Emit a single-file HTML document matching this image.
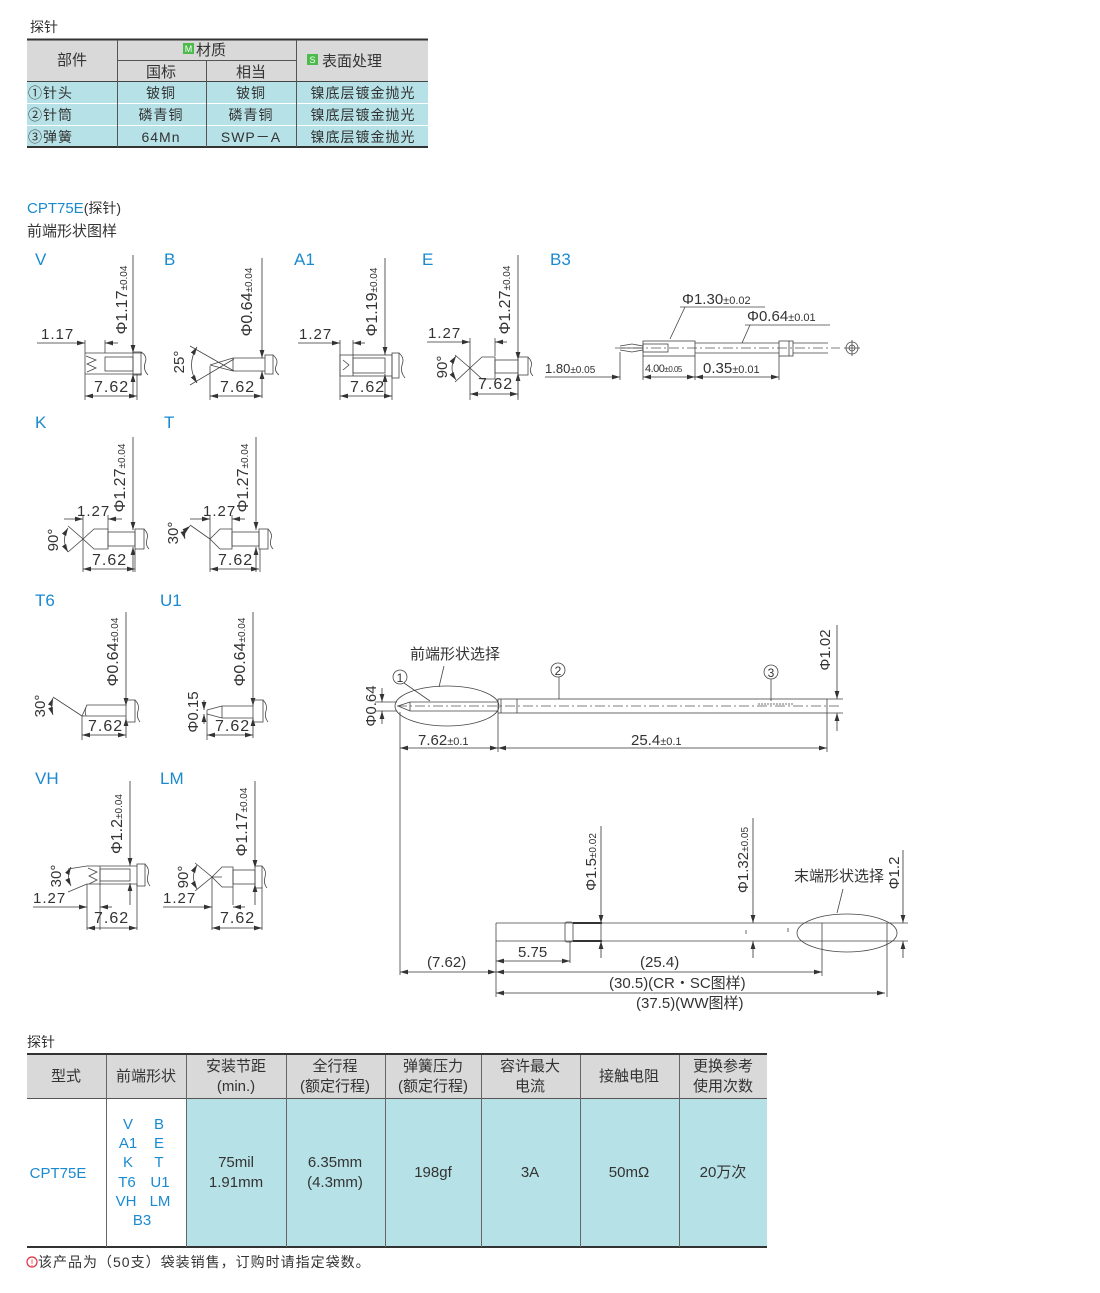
<!DOCTYPE html>
<html><head><meta charset="utf-8"><style>
html,body{margin:0;padding:0;background:#fff}
svg{display:block}
text{font-family:"Liberation Sans","Noto Sans CJK SC",sans-serif;fill:#333}
.l{stroke:#333;stroke-width:1;fill:none}
.t{stroke:#444;stroke-width:.8;fill:none}
.c{stroke:#555;stroke-width:.8;fill:none;stroke-dasharray:10 3 2 3}
.d{stroke:#333;stroke-width:.8;fill:none}
</style></head><body>
<svg width="1100" height="1293" viewBox="0 0 1100 1293" xmlns="http://www.w3.org/2000/svg">
<defs>
<marker id="a" viewBox="0 0 10 6" refX="10" refY="3" markerWidth="8" markerHeight="5" orient="auto-start-reverse" markerUnits="userSpaceOnUse"><path d="M0 0L10 3L0 6z" fill="#333"/></marker>
</defs>

<!-- TOP TABLE -->
<text x="30" y="32" font-size="14">探针</text>
<rect x="27" y="40" width="401" height="41" fill="#d9d9d9"/>
<rect x="27" y="81" width="401" height="66" fill="#b6e1e6"/>
<line x1="27" y1="39.5" x2="428" y2="39.5" stroke="#333" stroke-width="2"/>
<line x1="117" y1="60.5" x2="296" y2="60.5" stroke="#555"/>
<line x1="27" y1="81.5" x2="428" y2="81.5" stroke="#444"/>
<line x1="27" y1="103.5" x2="428" y2="103.5" stroke="#fff"/>
<line x1="27" y1="125.5" x2="428" y2="125.5" stroke="#fff"/>
<line x1="27" y1="147" x2="428" y2="147" stroke="#333" stroke-width="2"/>
<line x1="117.5" y1="40" x2="117.5" y2="147" stroke="#555"/>
<line x1="296.5" y1="40" x2="296.5" y2="147" stroke="#555"/>
<line x1="206.5" y1="61" x2="206.5" y2="147" stroke="#555"/>
<text x="72" y="65" font-size="15" text-anchor="middle">部件</text>
<rect x="183" y="43" width="11" height="11" fill="#4cbb4c"/><text x="188.5" y="52" font-size="9" text-anchor="middle" style="fill:#fff">M</text>
<text x="196" y="55" font-size="15">材质</text>
<text x="161" y="77" font-size="15" text-anchor="middle">国标</text>
<text x="251" y="77" font-size="15" text-anchor="middle">相当</text>
<rect x="307" y="54" width="11" height="11" fill="#4cbb4c"/><text x="312.5" y="63" font-size="9" text-anchor="middle" style="fill:#fff">S</text>
<text x="322" y="66" font-size="15">表面处理</text>
<g font-size="14" letter-spacing="1">
<text x="28" y="98">①针头</text><text x="161" y="98" text-anchor="middle">铍铜</text><text x="251" y="98" text-anchor="middle">铍铜</text><text x="363" y="98" text-anchor="middle">镍底层镀金抛光</text>
<text x="28" y="120">②针筒</text><text x="161" y="120" text-anchor="middle">磷青铜</text><text x="251" y="120" text-anchor="middle">磷青铜</text><text x="363" y="120" text-anchor="middle">镍底层镀金抛光</text>
<text x="28" y="142">③弹簧</text><text x="161" y="142" text-anchor="middle">64Mn</text><text x="251" y="142" text-anchor="middle">SWP－A</text><text x="363" y="142" text-anchor="middle">镍底层镀金抛光</text>
</g>

<text x="27" y="213" font-size="15" style="fill:#1a8ad0">CPT75E<tspan style="fill:#333" font-size="14">(探针)</tspan></text>
<text x="27" y="236" font-size="15">前端形状图样</text>

<g font-size="17">
<text x="35" y="265" style="fill:#1a8ad0">V</text><text x="164" y="265" style="fill:#1a8ad0">B</text><text x="294" y="265" style="fill:#1a8ad0">A1</text><text x="422" y="265" style="fill:#1a8ad0">E</text><text x="550" y="265" style="fill:#1a8ad0">B3</text>
<text x="35" y="428" style="fill:#1a8ad0">K</text><text x="164" y="428" style="fill:#1a8ad0">T</text>
<text x="35" y="606" style="fill:#1a8ad0">T6</text><text x="160" y="606" style="fill:#1a8ad0">U1</text>
<text x="35" y="784" style="fill:#1a8ad0">VH</text><text x="160" y="784" style="fill:#1a8ad0">LM</text>
</g>

<!-- V -->
<g>
<path class="d" d="M133 255V353" marker-end="url(#a)"/><path class="d" d="M133 398V374" marker-end="url(#a)"/>
<text transform="translate(127,300) rotate(-90)" font-size="16" text-anchor="middle">Φ1.17<tspan font-size="10">±0.04</tspan></text>
<path class="t" d="M85 340V400M105 340V353M137 374V400M85 353H142M85 374H142"/>
<path class="t" d="M86 356L96 360L87 364L96 368L87 372"/>
<rect class="t" x="105" y="357" width="28" height="14"/>
<rect class="t" x="133" y="352" width="8" height="23"/>
<path class="t" d="M141 352Q148 356 145 363Q143 370 148 375"/>
<path class="d" d="M37 343H85" marker-end="url(#a)"/><path class="d" d="M118 343H105" marker-end="url(#a)"/>
<text x="41" y="339" font-size="15" letter-spacing="1">1.17</text>
<path class="d" d="M85 396H137" marker-start="url(#a)" marker-end="url(#a)"/>
<text x="94" y="392" font-size="16" letter-spacing="1">7.62</text>
</g>
<!-- B -->
<g>
<path class="d" d="M262 258V358" marker-end="url(#a)"/><path class="d" d="M262 398V371" marker-end="url(#a)"/>
<text transform="translate(252,302) rotate(-90)" font-size="16" text-anchor="middle">Φ0.64<tspan font-size="10">±0.04</tspan></text>
<path class="t" d="M190 346L234 371M190 385L234 359M210 365L233 358H265M210 365L233 371H265M233 358V371M210 366V400"/>
<rect class="t" x="265" y="355" width="8" height="19"/>
<path class="t" d="M273 355Q279 360 276 366Q274 371 279 375"/>
<path class="t" d="M197 347Q186 365 197 383" marker-start="url(#a)" marker-end="url(#a)"/>
<text transform="translate(184,362) rotate(-90)" font-size="15" text-anchor="middle">25°</text>
<path class="d" d="M210 396H262" marker-start="url(#a)" marker-end="url(#a)"/>
<text x="220" y="392" font-size="16" letter-spacing="1">7.62</text>
</g>
<!-- A1 -->
<g>
<path class="d" d="M385 258V355" marker-end="url(#a)"/><path class="d" d="M385 398V374" marker-end="url(#a)"/>
<text transform="translate(377,302) rotate(-90)" font-size="16" text-anchor="middle">Φ1.19<tspan font-size="10">±0.04</tspan></text>
<path class="t" d="M340 340V400M353 340V355M392 376V400"/>
<rect class="t" x="340" y="355" width="52" height="21"/>
<path class="t" d="M353 355V376M343 360L349 365L343 370"/>
<rect class="t" x="353" y="358" width="32" height="15"/>
<rect class="t" x="392" y="353" width="7" height="25"/>
<path class="t" d="M399 353Q405 358 402 365Q400 372 405 378"/>
<path class="d" d="M298 343H340" marker-end="url(#a)"/><path class="d" d="M365 343H353" marker-end="url(#a)"/>
<text x="299" y="339" font-size="15" letter-spacing="1">1.27</text>
<path class="d" d="M340 396H392" marker-start="url(#a)" marker-end="url(#a)"/>
<text x="350" y="392" font-size="16" letter-spacing="1">7.62</text>
</g>
<!-- E -->
<g>
<path class="d" d="M518 255V360" marker-end="url(#a)"/><path class="d" d="M518 398V373" marker-end="url(#a)"/>
<text transform="translate(510,300) rotate(-90)" font-size="16" text-anchor="middle">Φ1.27<tspan font-size="10">±0.04</tspan></text>
<path class="t" d="M470 338V400M495 338V356M518 376V400"/>
<path class="t" d="M455 355L470 368L455 382M470 368L482 357H495V379H482Z"/>
<rect class="t" x="495" y="360" width="23" height="13"/>
<rect class="t" x="518" y="357" width="10" height="18"/>
<path class="t" d="M528 357Q533 362 531 367Q529 372 533 376"/>
<path class="t" d="M456 356Q448 368 456 380" marker-start="url(#a)" marker-end="url(#a)"/>
<text transform="translate(447,367) rotate(-90)" font-size="15" text-anchor="middle">90°</text>
<path class="d" d="M427 342H470" marker-end="url(#a)"/><path class="d" d="M507 342H495" marker-end="url(#a)"/>
<text x="428" y="338" font-size="15" letter-spacing="1">1.27</text>
<path class="d" d="M470 394H518" marker-start="url(#a)" marker-end="url(#a)"/>
<text x="478" y="389" font-size="16" letter-spacing="1">7.62</text>
</g>
<!-- B3 -->
<g>
<path class="c" d="M615 348H840"/>
<path class="t" d="M620 346L632 344L643 346M620 350L632 352L643 350M620 348H643"/>
<rect class="t" x="643" y="341" width="52" height="15"/>
<rect class="t" x="643" y="344" width="25" height="8"/>
<path class="t" d="M695 343H779M695 353H779M793 343H828M793 353H828"/>
<rect class="t" x="779" y="341" width="14" height="15"/>
<path class="t" d="M789 341V356"/>
<circle class="t" cx="852" cy="348" r="6"/><circle class="t" cx="852" cy="348" r="3"/><path class="t" d="M844 348H860M852 340V356"/>
<path class="t" d="M620 352V380M643 356V380M695 356V380M779 356V380"/>
<text x="682" y="304" font-size="15">Φ1.30<tspan font-size="11">±0.02</tspan></text>
<path class="t" d="M680 307H765M685 307L670 339"/>
<text x="747" y="321" font-size="15">Φ0.64<tspan font-size="11">±0.01</tspan></text>
<path class="t" d="M745 325H830M750 325L742 343"/>
<path class="d" d="M545 377H620" marker-end="url(#a)"/>
<text x="545" y="373" font-size="13">1.80<tspan font-size="10">±0.05</tspan></text>
<path class="d" d="M643 377H695" marker-start="url(#a)" marker-end="url(#a)"/>
<text x="645" y="372" font-size="11" letter-spacing="-0.5">4.00<tspan font-size="8">±0.05</tspan></text>
<path class="d" d="M695 377H779" marker-start="url(#a)" marker-end="url(#a)"/>
<text x="703" y="373" font-size="15">0.35<tspan font-size="11">±0.01</tspan></text>
</g>
<!-- K -->
<g>
<path class="d" d="M133 437V530" marker-end="url(#a)"/><path class="d" d="M133 572V547" marker-end="url(#a)"/>
<text transform="translate(125,478) rotate(-90)" font-size="16" text-anchor="middle">Φ1.27<tspan font-size="10">±0.04</tspan></text>
<path class="t" d="M83 515V572M108 515V530M135 549V572"/>
<path class="t" d="M68 526L83 539L68 552M83 539L94 529H108V549H94Z"/>
<rect class="t" x="108" y="532" width="27" height="14"/>
<rect class="t" x="135" y="529" width="9" height="20"/>
<path class="t" d="M144 529Q149 534 147 539Q145 545 149 549"/>
<path class="t" d="M68 528Q61 540 68 552" marker-start="url(#a)" marker-end="url(#a)"/>
<text transform="translate(58,540) rotate(-90)" font-size="15" text-anchor="middle">90°</text>
<path class="d" d="M64 519H83" marker-end="url(#a)"/><path class="d" d="M122 519H108" marker-end="url(#a)"/>
<text x="77" y="516" font-size="15" letter-spacing="1">1.27</text>
<path class="d" d="M83 569H135" marker-start="url(#a)" marker-end="url(#a)"/>
<text x="92" y="565" font-size="16" letter-spacing="1">7.62</text>
</g>
<!-- T -->
<g>
<path class="d" d="M256 437V530" marker-end="url(#a)"/><path class="d" d="M256 572V547" marker-end="url(#a)"/>
<text transform="translate(248,478) rotate(-90)" font-size="16" text-anchor="middle">Φ1.27<tspan font-size="10">±0.04</tspan></text>
<path class="t" d="M210 515V572M232 515V530M260 549V572"/>
<path class="t" d="M190 525L210 539M210 539L220 529H232V549H220Z"/>
<rect class="t" x="232" y="532" width="27" height="14"/>
<rect class="t" x="259" y="529" width="9" height="20"/>
<path class="t" d="M268 529Q273 534 271 539Q269 545 273 549"/>
<path class="t" d="M190 526Q183 532 185 539" marker-start="url(#a)" marker-end="url(#a)"/>
<text transform="translate(178,533) rotate(-90)" font-size="15" text-anchor="middle">30°</text>
<path class="d" d="M190 519H210" marker-end="url(#a)"/><path class="d" d="M245 519H232" marker-end="url(#a)"/>
<text x="203" y="516" font-size="15" letter-spacing="1">1.27</text>
<path class="d" d="M210 569H259" marker-start="url(#a)" marker-end="url(#a)"/>
<text x="218" y="565" font-size="16" letter-spacing="1">7.62</text>
</g>
<!-- T6 -->
<g>
<path class="d" d="M126 612V706" marker-end="url(#a)"/><path class="d" d="M126 738V718" marker-end="url(#a)"/>
<text transform="translate(118,652) rotate(-90)" font-size="16" text-anchor="middle">Φ0.64<tspan font-size="10">±0.04</tspan></text>
<path class="t" d="M82 716V740M53 697L82 716M82 716L87 705H126M82 716H126M87 705Q84 710 86 716"/>
<rect class="t" x="126" y="700" width="9" height="22"/>
<path class="t" d="M135 700Q140 705 138 711Q136 717 140 722"/>
<path class="t" d="M53 698Q50 706 53 715" marker-start="url(#a)" marker-end="url(#a)"/>
<text transform="translate(45,706) rotate(-90)" font-size="15" text-anchor="middle">30°</text>
<path class="d" d="M82 735H126" marker-start="url(#a)" marker-end="url(#a)"/>
<text x="88" y="731" font-size="16" letter-spacing="1">7.62</text>
</g>
<!-- U1 -->
<g>
<path class="d" d="M253 612V706" marker-end="url(#a)"/><path class="d" d="M253 738V718" marker-end="url(#a)"/>
<text transform="translate(245,652) rotate(-90)" font-size="16" text-anchor="middle">Φ0.64<tspan font-size="10">±0.04</tspan></text>
<path class="t" d="M207 710L222 706H253M207 714L222 718H253M207 710V714M222 706V718M207 714V740"/>
<rect class="t" x="253" y="700" width="10" height="22"/>
<path class="t" d="M263 700Q268 705 266 711Q264 717 268 722"/>
<path class="d" d="M204 700V710" marker-end="url(#a)"/><path class="d" d="M204 724V714" marker-end="url(#a)"/>
<text transform="translate(198,712) rotate(-90)" font-size="15" text-anchor="middle">Φ0.15</text>
<path class="d" d="M207 735H253" marker-start="url(#a)" marker-end="url(#a)"/>
<text x="215" y="731" font-size="16" letter-spacing="1">7.62</text>
</g>
<!-- VH -->
<g>
<path class="d" d="M130 781V866" marker-end="url(#a)"/><path class="d" d="M130 905V883" marker-end="url(#a)"/>
<text transform="translate(122,824) rotate(-90)" font-size="16" text-anchor="middle">Φ1.2<tspan font-size="10">±0.04</tspan></text>
<path class="t" d="M87 866L68 869M87 884L68 892M87 866H137M87 884H137M100 866V930M137 884V930M87 884V930"/>
<path class="t" d="M88 868L97 872L89 876L97 880L89 884"/>
<rect class="t" x="100" y="869" width="30" height="12"/>
<rect class="t" x="137" y="864" width="8" height="22"/>
<path class="t" d="M145 864Q150 869 148 875Q146 881 150 886"/>
<path class="t" d="M71 867Q66 876 71 886" marker-start="url(#a)" marker-end="url(#a)"/>
<text transform="translate(61,876) rotate(-90)" font-size="15" text-anchor="middle">30°</text>
<path class="d" d="M33 907H87" marker-end="url(#a)"/><path class="d" d="M112 907H100" marker-end="url(#a)"/>
<text x="33" y="903" font-size="15" letter-spacing="1">1.27</text>
<path class="d" d="M87 928H137" marker-start="url(#a)" marker-end="url(#a)"/>
<text x="94" y="923" font-size="16" letter-spacing="1">7.62</text>
</g>
<!-- LM -->
<g>
<path class="d" d="M255 781V868" marker-end="url(#a)"/><path class="d" d="M255 905V884" marker-end="url(#a)"/>
<text transform="translate(247,822) rotate(-90)" font-size="16" text-anchor="middle">Φ1.17<tspan font-size="10">±0.04</tspan></text>
<path class="t" d="M195 863L212 877L195 891M212 877L222 867H233V887H222ZM212 877V930M233 867V905M262 887V930M212 877H222"/>
<rect class="t" x="233" y="870" width="22" height="14"/>
<rect class="t" x="255" y="866" width="7" height="22"/>
<path class="t" d="M262 866Q267 871 265 877Q263 883 267 888"/>
<path class="t" d="M197 865Q190 877 197 889" marker-start="url(#a)" marker-end="url(#a)"/>
<text transform="translate(188,877) rotate(-90)" font-size="15" text-anchor="middle">90°</text>
<path class="d" d="M163 907H212" marker-end="url(#a)"/><path class="d" d="M245 907H233" marker-end="url(#a)"/>
<text x="163" y="903" font-size="15" letter-spacing="1">1.27</text>
<path class="d" d="M212 928H262" marker-start="url(#a)" marker-end="url(#a)"/>
<text x="220" y="923" font-size="16" letter-spacing="1">7.62</text>
</g>

<!-- MAIN PROBE -->
<g>
<path class="c" d="M397 706H840"/>
<ellipse class="t" cx="447" cy="706" rx="52" ry="20"/>
<path class="t" d="M398 706L410 702H498M398 706L410 711H498M410 702V711"/>
<rect class="t" x="498" y="699" width="329" height="14"/>
<path class="t" d="M517 699V713M501 699V713"/>
<path class="t" d="M758 704H793" stroke-dasharray="2 1" stroke-width="3"/>
<path class="d" d="M837 625V699" marker-end="url(#a)"/><path class="d" d="M837 731V713" marker-end="url(#a)"/>
<path class="t" d="M827 699H843M827 713H843M375 702H397M375 711H397"/>
<text transform="translate(830,650) rotate(-90)" font-size="15" text-anchor="middle">Φ1.02</text>
<path class="d" d="M382 688V702" marker-end="url(#a)"/><path class="d" d="M382 724V711" marker-end="url(#a)"/>
<text transform="translate(376,706) rotate(-90)" font-size="15" text-anchor="middle">Φ0.64</text>
<text x="410" y="659" font-size="15">前端形状选择</text>
<path class="t" d="M444 666L439 687"/>
<circle class="t" cx="400" cy="677" r="7"/><text x="400" y="682" font-size="12" text-anchor="middle">1</text>
<path class="t" d="M404 683L430 701"/>
<circle class="t" cx="558" cy="670" r="7"/><text x="558" y="675" font-size="12" text-anchor="middle">2</text>
<path class="t" d="M559 677V699"/>
<circle class="t" cx="771" cy="672" r="7"/><text x="771" y="677" font-size="12" text-anchor="middle">3</text>
<path class="t" d="M771 679V701"/>
<path class="t" d="M400 712V975M498 713V752M827 713V752"/>
<path class="d" d="M400 748H498" marker-start="url(#a)" marker-end="url(#a)"/>
<path class="d" d="M498 748H827" marker-start="url(#a)" marker-end="url(#a)"/>
<text x="418" y="745" font-size="15">7.62<tspan font-size="11">±0.1</tspan></text>
<text x="631" y="745" font-size="15">25.4<tspan font-size="11">±0.1</tspan></text>
</g>

<!-- LOWER BARREL -->
<g>
<path class="t" d="M496 923H887M496 941H887M496 923V997M887 923V997M822 923V976"/>
<rect class="t" x="565" y="922" width="8" height="20" rx="2"/>
<path d="M573 923H602M573 941H602" stroke="#333" stroke-width="2"/>
<path class="t" d="M601 923V941"/>
<path class="t" d="M746 930v4M788 928v4"/>
<ellipse class="t" cx="847" cy="933" rx="50" ry="19"/>
<path class="d" d="M601 826V923" marker-end="url(#a)"/><path class="d" d="M601 958V941" marker-end="url(#a)"/>
<text transform="translate(596,862) rotate(-90)" font-size="15" text-anchor="middle">Φ1.5<tspan font-size="10">±0.02</tspan></text>
<path class="d" d="M753 818V923" marker-end="url(#a)"/><path class="d" d="M753 958V941" marker-end="url(#a)"/>
<text transform="translate(748,860) rotate(-90)" font-size="15" text-anchor="middle">Φ1.32<tspan font-size="10">±0.05</tspan></text>
<path class="d" d="M903 850V923" marker-end="url(#a)"/><path class="d" d="M903 958V941" marker-end="url(#a)"/>
<path class="t" d="M887 923H908M887 941H908"/>
<text transform="translate(899,873) rotate(-90)" font-size="15" text-anchor="middle">Φ1.2</text>
<text x="794" y="881" font-size="15">末端形状选择</text>
<path class="t" d="M843 889L837 913M570 941V963"/>
<path class="d" d="M496 961H570" marker-start="url(#a)" marker-end="url(#a)"/>
<text x="518" y="957" font-size="15">5.75</text>
<path class="d" d="M400 972H496" marker-start="url(#a)" marker-end="url(#a)"/>
<text x="427" y="967" font-size="15">(7.62)</text>
<path class="d" d="M496 972H822" marker-start="url(#a)" marker-end="url(#a)"/>
<text x="640" y="967" font-size="15">(25.4)</text>
<text x="609" y="988" font-size="15">(30.5)(CR・SC图样)</text>
<path class="d" d="M496 993H885" marker-start="url(#a)" marker-end="url(#a)"/>
<text x="636" y="1008" font-size="15">(37.5)(WW图样)</text>
</g>

<!-- BOTTOM TABLE -->
<text x="27" y="1047" font-size="14">探针</text>
<rect x="27" y="1055" width="740" height="43" fill="#d9d9d9"/>
<rect x="186" y="1099" width="581" height="148" fill="#b6e1e6"/>
<line x1="27" y1="1054" x2="767" y2="1054" stroke="#333" stroke-width="2"/>
<line x1="27" y1="1098.5" x2="767" y2="1098.5" stroke="#555"/>
<line x1="27" y1="1247" x2="767" y2="1247" stroke="#333" stroke-width="2"/>
<g stroke="#666" stroke-width="1">
<line x1="106.5" y1="1055" x2="106.5" y2="1247"/><line x1="186.5" y1="1055" x2="186.5" y2="1247"/>
<line x1="286.5" y1="1055" x2="286.5" y2="1247"/><line x1="385.5" y1="1055" x2="385.5" y2="1247"/>
<line x1="481.5" y1="1055" x2="481.5" y2="1247"/><line x1="580.5" y1="1055" x2="580.5" y2="1247"/>
<line x1="679.5" y1="1055" x2="679.5" y2="1247"/>
</g>
<g font-size="15" text-anchor="middle">
<text x="66" y="1081">型式</text><text x="146" y="1081">前端形状</text>
<text x="236" y="1071">安装节距</text><text x="236" y="1091">(min.)</text>
<text x="335" y="1071">全行程</text><text x="335" y="1091">(额定行程)</text>
<text x="433" y="1071">弹簧压力</text><text x="433" y="1091">(额定行程)</text>
<text x="530" y="1071">容许最大</text><text x="530" y="1091">电流</text>
<text x="629" y="1081">接触电阻</text>
<text x="723" y="1071">更换参考</text><text x="723" y="1091">使用次数</text>
<text x="58" y="1178" style="fill:#1a8ad0">CPT75E</text>
<text x="128" y="1129" style="fill:#1a8ad0">V</text><text x="159" y="1129" style="fill:#1a8ad0">B</text>
<text x="128" y="1148" style="fill:#1a8ad0">A1</text><text x="159" y="1148" style="fill:#1a8ad0">E</text>
<text x="128" y="1167" style="fill:#1a8ad0">K</text><text x="159" y="1167" style="fill:#1a8ad0">T</text>
<text x="127" y="1187" style="fill:#1a8ad0">T6</text><text x="160" y="1187" style="fill:#1a8ad0">U1</text>
<text x="126" y="1206" style="fill:#1a8ad0">VH</text><text x="160" y="1206" style="fill:#1a8ad0">LM</text>
<text x="142" y="1225" style="fill:#1a8ad0">B3</text>
<text x="236" y="1167">75mil</text><text x="236" y="1187">1.91mm</text>
<text x="335" y="1167">6.35mm</text><text x="335" y="1187">(4.3mm)</text>
<text x="433" y="1177">198gf</text><text x="530" y="1177">3A</text>
<text x="629" y="1177">50mΩ</text><text x="723" y="1177">20万次</text>
</g>
<circle cx="32" cy="1262" r="5" fill="none" stroke="#e03040" stroke-width="1.2"/>
<text x="32" y="1266" font-size="9" text-anchor="middle" style="fill:#e03040">!</text>
<text x="38" y="1267" font-size="14" letter-spacing="1">该产品为（50支）袋装销售，订购时请指定袋数。</text>
</svg>
</body></html>
